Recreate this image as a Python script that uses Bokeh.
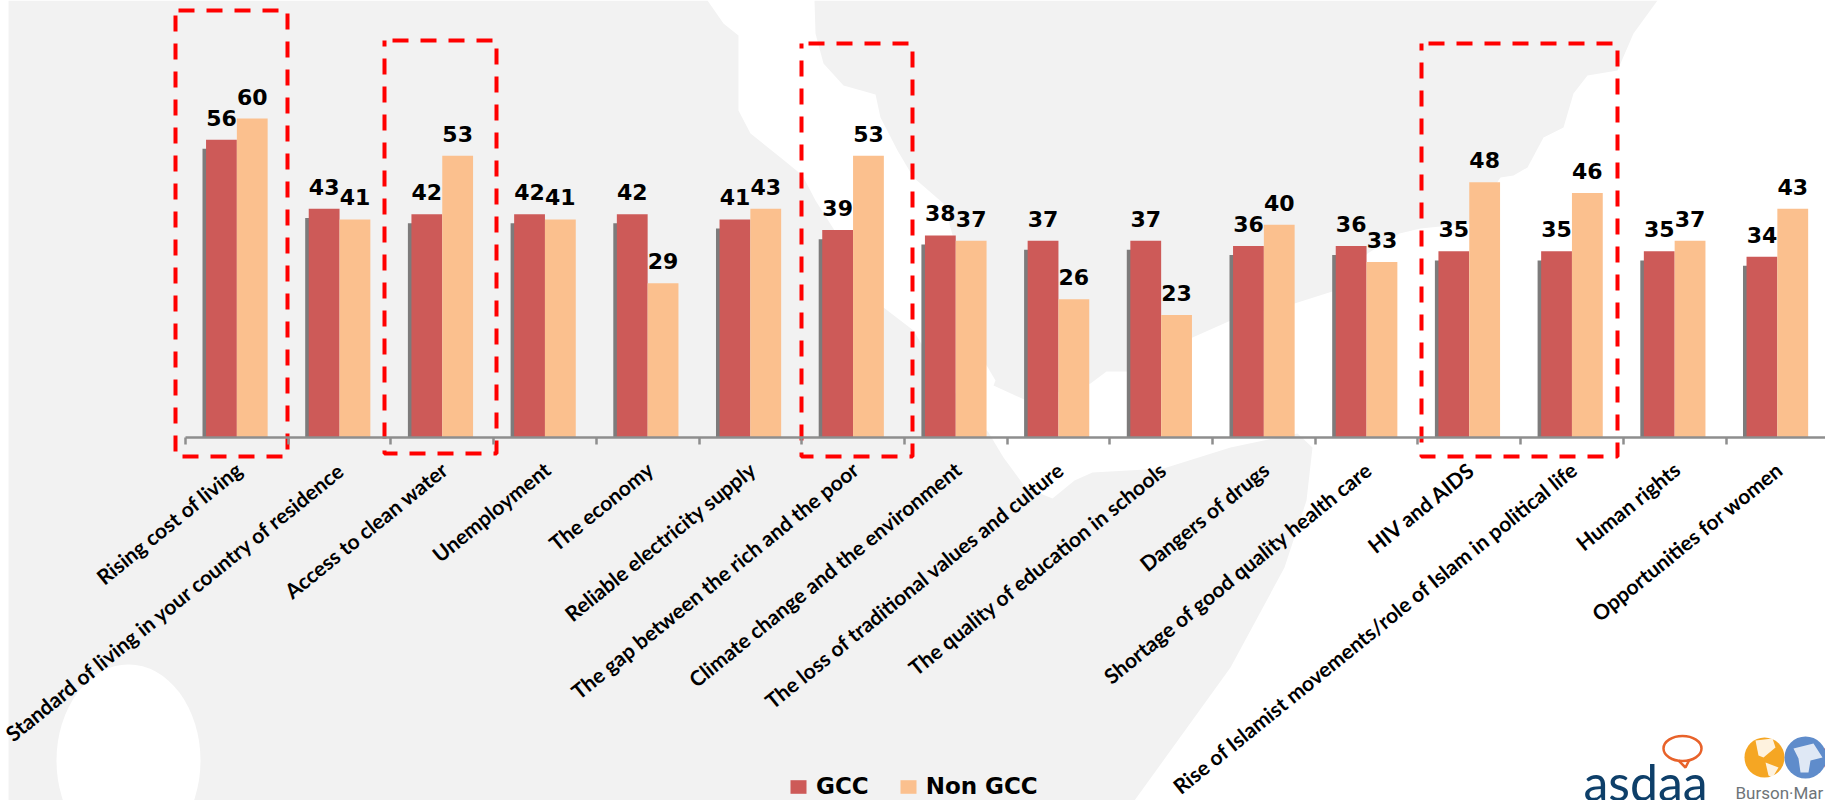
from bokeh.core.properties import value
from bokeh.embed import file_html
from bokeh.models import (ColumnDataSource, FixedTicker, Legend, LegendItem,
                          LinearAxis, Range1d)
from bokeh.plotting import figure
from bokeh.resources import INLINE
import math

# Survey results, percent of respondents
categories = [
    "Rising cost of living",
    "Standard of living in your country of residence",
    "Access to clean water",
    "Unemployment",
    "The economy",
    "Reliable electricity supply",
    "The gap between the rich and the poor",
    "Climate change and the environment",
    "The loss of traditional values and culture",
    "The quality of education in schools",
    "Dangers of drugs",
    "Shortage of good quality health care",
    "HIV and AIDS",
    "Rise of Islamist movements/role of Islam in political life",
    "Human rights",
    "Opportunities for women",
]
gcc = [56, 43, 42, 42, 42, 41, 39, 38, 37, 37, 36, 36, 35, 35, 35, 34]
non_gcc = [60, 41, 53, 41, 29, 43, 53, 37, 26, 23, 40, 33, 48, 46, 37, 43]

WIDTH, HEIGHT = 1825, 800
STEP = 102.7          # pixels per category
ORIGIN_X = 185.0      # pixel of the first category boundary
BASE_Y = 436.7        # pixel of the value axis zero
UNIT = 5.31           # pixels per percentage point
BAR = 0.3

RED, PEACH, SHADOW = "#CD5A58", "#FBC08E", "#7D7B7B"
MAP_GREY, AXIS_GREY = "#F2F2F2", "#8E8E8E"
NAVY, BUBBLE = "#0E3F69", "#E8622A"

p = figure(
    width=WIDTH, height=HEIGHT, output_backend="svg", toolbar_location=None,
    x_range=Range1d(-ORIGIN_X / STEP, (WIDTH - ORIGIN_X) / STEP),
    y_range=Range1d((BASE_Y - HEIGHT) / UNIT, BASE_Y / UNIT),
    x_axis_location=None, y_axis_location=None,
    min_border=0, outline_line_color=None, background_fill_color="white",
    border_fill_color="white",
)
p.grid.visible = False

# Page-pixel coordinates for the decoration behind and around the chart
p.extra_x_ranges["page_x"] = Range1d(0, WIDTH)
p.extra_y_ranges["page_y"] = Range1d(HEIGHT, 0)
page = dict(x_range_name="page_x", y_range_name="page_y")

# World map backdrop
west_x = [8, 707, 723, 738, 738, 750, 780, 802, 815, 850, 883, 913, 923, 960, 988,
          1003, 1025, 1052, 1074, 1092, 1163, 1230, 1297, 1312, 1306, 1284, 1230, 1134, 8]
west_y = [0, 0, 23, 35, 110, 133, 157, 175, 200, 255, 307, 330, 347, 400, 432,
          457, 487, 498, 480, 472, 468, 447, 433, 447, 500, 567, 667, 800, 800]
east_x = [814, 815, 823, 843, 875, 880, 897, 913, 943, 965, 985, 995, 993, 1026, 1090, 1106,
          1128, 1192, 1237, 1294, 1335, 1367, 1399, 1420, 1469, 1500, 1513, 1527, 1543,
          1563, 1573, 1587, 1617, 1633, 1657]
east_y = [0, 33, 63, 85, 94, 117, 150, 177, 203, 280, 363, 380, 385, 400, 383, 371,
          371, 337, 317, 303, 290, 253, 233, 228, 223, 177, 175, 167, 137,
          127, 93, 75, 70, 33, 0]
p.patch(west_x, west_y, fill_color=MAP_GREY, line_color=None, **page)
p.patch(east_x, east_y, fill_color=MAP_GREY, line_color=None, **page)
p.ellipse(x=[128], y=[760], width=[144], height=[192], fill_color="white",
          line_color=None, **page)

# Clustered bars with a thin shadow on the left of each red bar
centres = [i + 0.5 for i in range(len(categories))]
source = ColumnDataSource(dict(
    red_x=[c - BAR / 2 for c in centres],
    peach_x=[c + BAR / 2 for c in centres],
    shade_x=[c - BAR - 0.012 for c in centres],
    shade_top=[v - 1.7 for v in gcc],
    gcc=gcc, non_gcc=non_gcc,
    gcc_text=[str(v) for v in gcc], non_gcc_text=[str(v) for v in non_gcc],
    centre=centres, category=categories,
))
p.vbar(x="shade_x", top="shade_top", bottom=0, width=0.045, source=source,
       fill_color=SHADOW, line_color=None)
red_bars = p.vbar(x="red_x", top="gcc", bottom=0, width=BAR, source=source,
                  fill_color=RED, line_color=None)
peach_bars = p.vbar(x="peach_x", top="non_gcc", bottom=0, width=BAR, source=source,
                    fill_color=PEACH, line_color=None)

# Value labels
label_style = dict(text_font=value("DejaVu Sans"), text_font_style="bold",
                   text_font_size="22px", text_color="black", text_align="center",
                   text_baseline="middle", y_offset=-22, source=source)
p.text(x="red_x", y="gcc", text="gcc_text", **label_style)
p.text(x="peach_x", y="non_gcc", text="non_gcc_text", **label_style)

# Slanted category labels hanging from the axis
p.text(x="centre", y=0, text="category", source=source, angle=math.radians(39),
       x_offset=2, y_offset=29, text_align="right", text_baseline="middle",
       text_font=value("Lato"), text_font_style="bold", text_font_size="21px",
       text_color="black")

# Category axis drawn along zero, with ticks on the category boundaries
axis = LinearAxis(
    ticker=FixedTicker(ticks=list(range(len(categories) + 1))),
    fixed_location=0, bounds=(0, 17),
    major_label_text_font_size="0px", major_label_text_color=None,
    major_tick_in=0, major_tick_out=7, minor_tick_out=0, minor_tick_in=0,
    axis_line_color=AXIS_GREY, axis_line_width=2.5,
    major_tick_line_color=AXIS_GREY, major_tick_line_width=2.5,
)
p.add_layout(axis, "below")

# Dashed call-out boxes: first dash x, left, right, top, bottom
boxes = [
    (178, 175, 287, 10, 456),
    (392, 384, 496, 40, 453),
    (808, 801, 912, 43, 456),
    (1428, 1421, 1617, 43, 456),
]
for start, left, right, top, bottom in boxes:
    p.line([start, right, right, left, left], [top, top, bottom, bottom, top],
           line_color="#FF0000", line_width=4, line_dash="16 12", **page)

# Legend along the bottom edge
legend = Legend(
    items=[LegendItem(label="GCC", renderers=[red_bars]),
           LegendItem(label="Non GCC", renderers=[peach_bars])],
    orientation="horizontal", location=(788, 1), background_fill_alpha=0,
    border_line_color=None, padding=0, margin=0, spacing=29, label_standoff=8,
    glyph_width=20, glyph_height=17,
    label_text_font="DejaVu Sans", label_text_font_style="bold",
    label_text_font_size="23px", label_text_color="black",
)
p.add_layout(legend, "center")

# Publisher marks in the lower right corner
p.text(x=[1583], y=[781], text=["asdaa"], text_font=value("Lato"),
       text_font_size="50px", text_color=NAVY, text_baseline="middle", **page)
p.ellipse(x=[1682], y=[748], width=[38], height=[25], fill_color=None,
          line_color=BUBBLE, line_width=2.5, **page)
p.line([1678, 1685, 1689], [760, 767, 759], line_color=BUBBLE, line_width=2.5, **page)
p.circle(x=[1843], y=[757], radius=21, fill_color="#D9262C", line_color=None, **page)
p.circle(x=[1764], y=[757], radius=20, fill_color="#F5A623", line_color=None, **page)
p.circle(x=[1805], y=[757], radius=21, fill_color="#5F8CCB", line_color=None, **page)
p.patch([1755, 1772, 1775, 1763, 1758], [740, 738, 747, 757, 755],
        fill_color="white", line_color=None, fill_alpha=0.85, **page)
p.patch([1765, 1778, 1772, 1768], [762, 767, 777, 775],
        fill_color="white", line_color=None, fill_alpha=0.85, **page)
p.patch([1793, 1813, 1822, 1810, 1808, 1800, 1798], [748, 743, 757, 760, 772, 772, 758],
        fill_color="white", line_color=None, fill_alpha=0.8, **page)
p.text(x=[1735], y=[792], text=["Burson\u00b7Mar"], text_font=value("Roboto"),
       text_font_size="17px", text_color="#6E7478", text_baseline="middle", **page)

open("out.html", "w").write(file_html(p, INLINE))
